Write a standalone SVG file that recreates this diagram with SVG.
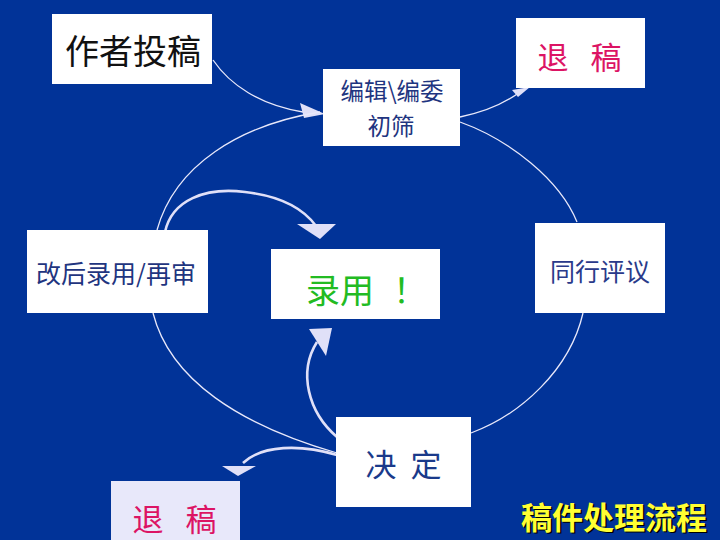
<svg xmlns="http://www.w3.org/2000/svg" width="720" height="540" viewBox="0 0 720 540">
<style>
.box{fill:#ffffff}
.t{font-family:"Noto Sans CJK SC","Liberation Sans",sans-serif;text-anchor:middle;dominant-baseline:central}
.thin{fill:none;stroke:#e8e8fa;stroke-width:1.3}
.thick{fill:none;stroke:#e0e0f8;stroke-width:2.6}
.head{fill:#e0e0f8}
.red{fill:#dc1464;font-size:31px}
</style>
<rect width="720" height="540" fill="#013398"/>
<g id="connectors">
  <path class="thin" d="M213,60 C230,85 260,105 303,112"/>
  <polygon class="head" points="325,114 300,103 304,118"/>
  <path class="thin" d="M460,117 C485,112 505,103 520,92"/>
  <polygon class="head" points="530,87 512,90 518,97"/>
  <path class="thin" d="M460,122 C510,140 560,180 577,222"/>
  <path class="thin" d="M583,313 C570,370 520,415 471,433"/>
  <path class="thin" d="M153,313 C170,380 240,425 337,453"/>
  <path class="thin" d="M157,230 C175,165 240,125 320,112"/>
  <path class="thick" d="M165,232 C172,200 205,187 245,192 C280,196 303,208 316,226"/>
  <polygon class="head" points="297,224 336,224 320,239"/>
  <path class="thick" d="M337,437 C308,412 298,372 317,342"/>
  <polygon class="head" points="332,328 309,329 326,356"/>
  <path class="thick" d="M337,455 C300,444 262,445 243,463"/>
  <polygon class="head" points="222,466 256,466 238,476"/>
</g>
<g id="submit">
  <rect class="box" x="52" y="14" width="160" height="70"/>
  <text class="t" x="133" y="49" font-size="34" fill="#111111">作者投稿</text>
</g>
<g id="reject-top">
  <rect class="box" x="516" y="18" width="129" height="70"/>
  <text class="t red" x="553" y="55">退</text>
  <text class="t red" x="606" y="55">稿</text>
</g>
<g id="screening">
  <rect class="box" x="323" y="69" width="137" height="77"/>
  <text class="t" x="392" y="90" font-size="23.5" fill="#1f3580">编辑\编委</text>
  <text class="t" x="391" y="125" font-size="23.5" fill="#1f3580">初筛</text>
</g>
<g id="revise">
  <rect class="box" x="27" y="230" width="181" height="83"/>
  <text class="t" x="116" y="272" font-size="25" fill="#1f3580">改后录用/再审</text>
</g>
<g id="accept">
  <rect class="box" x="271" y="249" width="169" height="70"/>
  <text class="t" x="340" y="288" font-size="34" fill="#22bb22">录用</text>
  <text class="t" x="410" y="288" font-size="34" fill="#22bb22">！</text>
</g>
<g id="review">
  <rect class="box" x="535" y="223" width="130" height="90"/>
  <text class="t" x="600" y="270" font-size="25" fill="#2a3a8a">同行评议</text>
</g>
<g id="decision">
  <rect class="box" x="336" y="417" width="135" height="90"/>
  <text class="t" x="381" y="462" font-size="31" fill="#1a3a8a">决</text>
  <text class="t" x="426" y="462" font-size="31" fill="#1a3a8a">定</text>
</g>
<g id="reject-bottom">
  <rect x="111" y="481" width="129" height="59" fill="#e8e8fa"/>
  <text class="t red" x="148" y="517">退</text>
  <text class="t red" x="201" y="517">稿</text>
</g>
<g id="title">
  <text x="521" y="515" font-family="Noto Sans CJK SC, sans-serif" font-size="31" font-weight="bold" fill="#000000" dominant-baseline="central" transform="translate(1.5,1.5)">稿件处理流程</text>
  <text x="521" y="515" font-family="Noto Sans CJK SC, sans-serif" font-size="31" font-weight="bold" fill="#ffff33" dominant-baseline="central">稿件处理流程</text>
</g>
</svg>
